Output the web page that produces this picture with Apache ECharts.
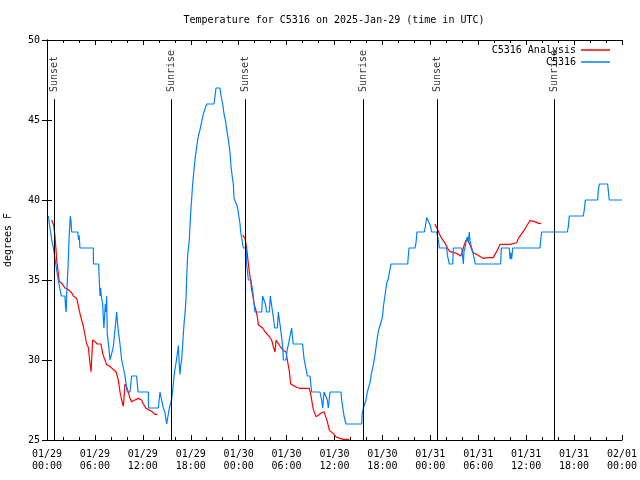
<!DOCTYPE html>
<html>
<head>
<meta charset="utf-8">
<script src="https://cdn.jsdelivr.net/npm/echarts@6/dist/echarts.min.js"></script>
<style>html,body{margin:0;padding:0;background:#fff;}#c{width:640px;height:480px;}</style>
</head>
<body>
<div id="c"></div>
<script>
const titleText = 'Temperature for C5316 on 2025-Jan-29 (time in UTC)';
const yAxisName = 'degrees F';
const seriesNames = ['C5316 Analysis', 'C5316'];
const xTickLabels = ['01/29\n00:00','01/29\n06:00','01/29\n12:00','01/29\n18:00','01/30\n00:00','01/30\n06:00','01/30\n12:00','01/30\n18:00','01/31\n00:00','01/31\n06:00','01/31\n12:00','01/31\n18:00','02/01\n00:00'];

// hours since 01/29 00:00 UTC
const eventHours = [0.92, 15.57, 24.88, 39.6, 48.88, 63.53];
const eventNames = ['Sunset', 'Sunrise', 'Sunset', 'Sunrise', 'Sunset', 'Sunrise'];

const obsHours = [0.17,0.3,0.45,0.6,0.8,0.96,1.1,1.25,1.4,1.55,1.79,2.25,2.32,2.4,2.46,2.55,2.65,2.72,2.8,2.92,3.0,3.09,3.85,3.95,4.02,4.13,5.8,5.82,6.47,6.55,6.63,6.72,6.8,6.97,7.05,7.13,7.3,7.38,7.47,7.55,7.72,7.89,8.14,8.3,8.52,8.72,8.85,8.93,9.14,9.35,9.56,9.77,9.9,10.06,10.39,10.6,11.22,11.4,12.69,12.72,13.94,14.15,14.35,14.57,14.78,14.98,15.2,15.32,15.5,15.6,15.82,15.95,16.15,16.32,16.45,16.57,16.65,16.73,16.86,16.99,17.15,17.28,17.4,17.49,17.61,17.82,17.99,18.12,18.24,18.41,18.57,18.74,18.95,19.16,19.37,19.58,19.79,20.0,20.91,21.04,21.16,21.66,21.79,22.0,22.16,22.37,22.5,22.71,22.91,23.04,23.16,23.33,23.42,23.67,23.83,23.96,24.17,24.25,24.5,24.58,24.95,25.0,25.21,25.54,25.7,25.83,25.92,26.04,26.88,27.0,27.21,27.35,27.5,27.84,27.96,28.1,28.34,28.51,28.84,28.97,29.1,29.26,29.43,29.55,29.59,29.93,30.09,30.2,30.43,30.64,30.72,30.84,32.0,32.18,32.43,32.6,32.93,33.14,34.18,34.39,34.52,34.69,34.94,35.1,35.23,35.44,36.81,36.9,37.19,37.44,39.4,39.48,39.61,39.8,39.95,40.11,40.3,40.45,40.57,40.78,40.9,41.03,41.2,41.32,41.49,41.61,41.82,41.91,42.03,42.11,42.24,42.4,42.53,42.7,42.82,42.95,43.08,45.16,45.33,46.08,46.2,46.33,47.25,47.42,47.55,47.67,47.83,48.0,48.17,48.8,49.0,49.13,50.05,50.15,50.25,50.38,50.8,50.88,51.92,52.04,52.13,52.22,52.34,52.47,52.63,52.76,52.88,52.97,53.18,53.38,53.51,53.63,56.8,56.89,57.89,57.98,58.06,58.18,58.31,61.73,61.82,61.94,65.15,65.27,65.4,67.16,67.28,67.41,68.95,69.03,69.16,70.2,70.28,70.41,72.0];
const obsTemps = [39.0,38.5,38.0,37.5,37.0,37.0,36.0,35.9,35.0,34.9,34.0,34.0,33.3,33.0,34.0,35.0,36.0,37.0,38.0,39.0,38.7,38.0,38.0,37.5,37.8,37.0,37.0,36.0,36.0,35.0,34.0,34.5,34.0,33.5,32.6,32.0,33.5,33.0,34.0,31.6,30.9,30.0,30.0,30.8,31.9,33.0,33.0,31.8,31.0,30.0,29.5,29.0,28.5,28.0,28.0,29.0,29.0,28.0,28.0,27.0,27.0,28.0,27.5,27.0,26.7,26.0,26.0,27.0,27.0,27.5,28.5,29.2,29.8,30.4,30.9,29.6,29.1,29.6,30.0,31.0,32.2,32.9,33.75,35.2,36.5,37.5,39.2,40.1,41.0,41.9,42.7,43.3,44.0,44.4,44.9,45.4,45.7,46.0,46.0,46.5,47.0,47.0,46.5,46.0,45.4,44.9,44.4,43.75,43.0,42.1,41.6,41.0,40.1,40.0,39.6,39.2,38.5,38.0,38.0,37.0,37.0,36.0,35.0,35.0,34.5,34.0,33.5,33.0,33.0,34.0,34.0,33.5,33.0,33.0,34.0,33.5,32.7,32.0,32.0,33.0,32.5,31.9,31.2,30.6,30.0,30.0,30.7,30.9,31.5,32.0,31.5,31.0,31.0,30.1,30.0,29.0,29.0,28.0,28.0,27.5,27.0,28.0,28.0,27.5,27.0,28.0,28.0,27.5,26.5,26.0,26.0,26.7,27.0,27.0,27.5,28.0,28.0,28.6,29.0,29.0,29.8,30.2,30.8,31.25,31.8,32.0,32.0,32.5,32.8,33.3,33.75,34.3,34.8,35.0,35.3,35.7,36.0,36.0,37.0,37.0,37.3,38.0,38.0,38.5,38.9,39.0,38.6,38.4,38.0,38.0,37.5,37.0,37.0,36.5,36.3,36.0,36.0,37.0,37.0,36.5,36.0,36.8,37.0,37.4,37.7,37.4,38.0,37.4,37.0,36.9,36.3,36.0,36.0,37.0,37.0,36.3,36.7,36.3,37.0,37.0,37.5,38.0,38.0,38.3,39.0,39.0,39.4,40.0,40.0,40.6,41.0,41.0,40.6,40.0,40.0];

// null = gap between analysis runs
const anaHours = [0.58,0.79,0.85,1.0,1.13,1.21,1.42,1.54,1.84,2.25,2.67,3.09,3.3,3.72,3.92,4.13,4.34,4.55,4.76,4.97,5.17,5.38,5.51,5.59,5.72,6.01,6.3,6.76,6.97,7.18,7.47,7.89,8.3,8.64,8.81,8.93,9.14,9.35,9.56,9.68,9.77,9.98,10.18,10.39,10.6,11.01,11.43,11.85,12.06,12.4,12.69,13.1,13.52,13.81,
  13.9,
  24.5,24.79,25.0,25.21,25.33,25.5,25.62,25.75,25.92,26.17,26.34,26.46,26.67,27.0,27.3,27.59,27.84,28.13,28.34,28.55,28.68,28.84,29.09,29.26,29.59,29.93,30.13,30.35,30.51,30.84,31.26,31.6,32.85,33.01,33.14,33.35,33.69,33.98,34.39,34.69,34.94,35.1,35.36,35.52,35.85,36.27,36.68,37.1,37.86,
  38.0,
  48.58,48.8,48.96,49.21,49.42,49.63,49.84,50.05,50.25,50.46,50.67,51.09,51.51,51.8,52.0,52.13,52.26,52.47,52.63,52.76,52.97,53.18,53.38,53.8,54.13,54.64,55.26,55.89,56.1,56.31,56.52,56.73,57.98,58.81,59.02,59.44,59.86,60.15,60.48,60.69,61.1,61.52,61.86];
const anaTemps = [38.75,38.75,38.4,37.7,36.9,36.25,35.4,34.9,34.8,34.5,34.4,34.2,34.0,33.85,33.4,32.9,32.5,32.1,32.1,31.0,30.8,29.8,29.27,30.0,31.25,31.15,31.0,31.0,30.4,30.1,29.7,29.6,29.4,29.27,29.27,28.75,28.0,27.5,27.1,27.9,28.5,28.3,28.0,27.6,27.4,27.5,27.6,27.5,27.25,26.98,26.9,26.8,26.6,26.6,
  null,
  37.8,37.6,37.0,36.04,35.5,35.0,34.4,34.1,33.54,33.1,32.7,32.2,32.1,32.0,31.77,31.6,31.46,31.25,30.83,30.5,31.25,31.1,30.94,30.8,30.6,30.5,29.9,29.27,28.5,28.4,28.3,28.23,28.23,27.9,27.5,26.9,26.46,26.55,26.7,26.77,26.67,26.15,25.6,25.5,25.4,25.17,25.1,25.04,25.04,
  null,
  38.5,38.4,38.1,37.8,37.6,37.5,37.3,37.1,36.9,36.77,36.7,36.7,36.6,36.5,36.7,37.0,37.2,37.5,37.6,37.4,37.2,36.9,36.7,36.6,36.5,36.35,36.4,36.4,36.6,36.8,37.0,37.23,37.23,37.33,37.6,37.9,38.2,38.45,38.71,38.71,38.65,38.54,38.54];

const FONT = 'DejaVu Sans Mono';
const lineTop = 46.3, labelBase = 46.75, yMin = 25;

const obsData = obsHours.map((h, i) => [h, obsTemps[i]]);
const anaData = anaHours.map((h, i) => [h, anaTemps[i] == null ? '-' : anaTemps[i]]);

const chart = echarts.init(document.getElementById('c'), null, {renderer: 'canvas'});
const axisCommon = {
  axisLine: {show: true, lineStyle: {color: '#000', width: 1}},
  splitLine: {show: false}
};
chart.setOption({
  animation: false,
  backgroundColor: '#fff',
  graphic: [{
    type: 'text', x: 334, y: 20,
    style: {text: titleText, fill: '#000', font: '10px "' + FONT + '"', textAlign: 'center', textVerticalAlign: 'middle'}
  }],
  legend: {
    data: seriesNames,
    orient: 'vertical', right: 30, top: 44, padding: 0,
    align: 'right', icon: 'rect', itemWidth: 29, itemHeight: 1.5, itemGap: 0,
    textStyle: {fontFamily: FONT, fontSize: 10, color: '#000', lineHeight: 12},
    selectedMode: false
  },
  grid: {left: 47, right: 18, top: 40, bottom: 40, containLabel: false, outerBoundsMode: 'none'},
  xAxis: [
    Object.assign({}, axisCommon, {
      type: 'value', min: 0, max: 72, interval: 6, position: 'bottom',
      axisTick: {show: true, inside: true, length: 5, lineStyle: {color: '#000'}},
      minorTick: {show: true, splitNumber: 3, length: 3, lineStyle: {color: '#000'}},
      axisLabel: {formatter: v => xTickLabels[Math.round(v / 6)], fontFamily: FONT, fontSize: 10, color: '#000', lineHeight: 12, margin: 8, hideOverlap: false}
    }),
    Object.assign({}, axisCommon, {
      type: 'value', min: 0, max: 72, interval: 6, position: 'top',
      axisTick: {show: true, inside: true, length: 5, lineStyle: {color: '#000'}},
      minorTick: {show: true, splitNumber: 3, length: 3, lineStyle: {color: '#000'}},
      axisLabel: {show: false}
    })
  ],
  yAxis: [
    Object.assign({}, axisCommon, {
      type: 'value', min: 25, max: 50, interval: 5, position: 'left',
      axisTick: {show: true, inside: true, length: 5, lineStyle: {color: '#000'}},
      axisLabel: {fontFamily: FONT, fontSize: 10, color: '#000', margin: 7},
      name: yAxisName, nameLocation: 'middle', nameRotate: 90, nameGap: 34,
      nameTextStyle: {fontFamily: FONT, fontSize: 10, color: '#000'}
    }),
    Object.assign({}, axisCommon, {
      type: 'value', min: 25, max: 50, interval: 5, position: 'right',
      axisTick: {show: true, inside: true, length: 5, lineStyle: {color: '#000'}},
      axisLabel: {show: false}
    })
  ],
  series: [
    {
      name: 'events', type: 'scatter', symbolSize: 0, silent: true,
      data: eventHours.map((h, i) => ({value: [h, labelBase], name: eventNames[i]})),
      label: {show: true, position: 'inside', formatter: p => p.name, rotate: 90, align: 'left', verticalAlign: 'middle',
        fontFamily: FONT, fontSize: 10, color: '#000'},
      markLine: {
        silent: true, symbol: ['none', 'none'], label: {show: false},
        lineStyle: {color: '#000', width: 1, type: 'solid'},
        emphasis: {disabled: true},
        data: eventHours.map(h => [{coord: [h, lineTop]}, {coord: [h, yMin]}])
      }
    },
    {
      name: seriesNames[0], type: 'line', data: anaData, showSymbol: false, symbol: 'none',
      connectNulls: false, color: '#ff0000', lineStyle: {color: '#ff0000', width: 1.2}
    },
    {
      name: seriesNames[1], type: 'line', data: obsData, showSymbol: false, symbol: 'none',
      color: '#0080ff', lineStyle: {color: '#0080ff', width: 1.2}
    }
  ]
});
</script>
</body>
</html>
